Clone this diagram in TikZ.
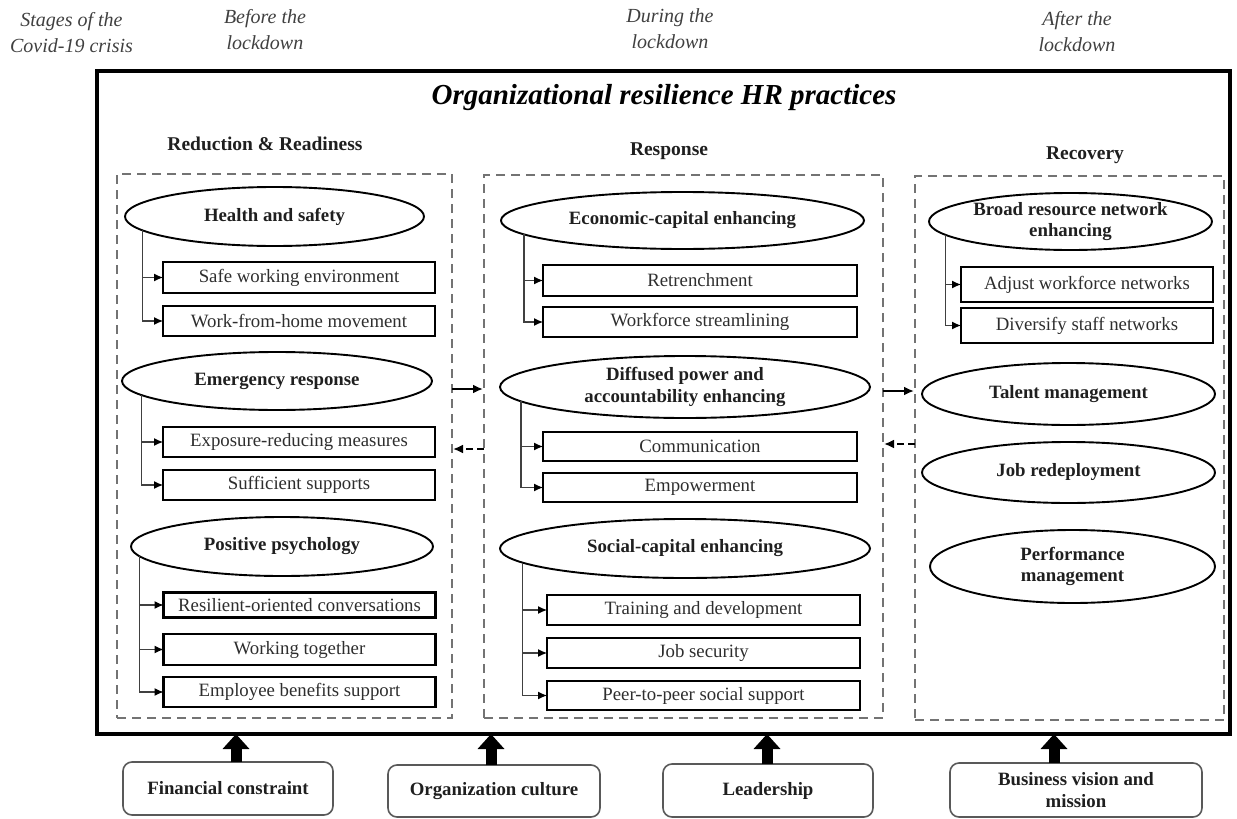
\documentclass[tikz,border=0pt]{standalone}
\usepackage{fontspec}
\setmainfont{Liberation Serif}
\usetikzlibrary{shapes.geometric,arrows.meta,calc}
\begin{document}
\begin{tikzpicture}[x=1pt,y=-1pt,
  every node/.style={font=\fontsize{18.8}{23}\selectfont, outer sep=0pt},
  hdr/.style={font=\fontsize{20}{26}\selectfont\itshape, text=black!75, align=center},
  colhd/.style={font=\fontsize{19.5}{24}\selectfont\bfseries, text=black!88},
  ell/.style={ellipse, draw, line width=1.9pt, inner sep=-8pt, font=\fontsize{18.8}{21.5}\selectfont\bfseries, align=center, text=black!88},
  item/.style={rectangle, draw, line width=2.4pt, inner sep=0pt, text=black!82},
  zone/.style={rectangle, draw=black!55, line width=1.6pt, dash pattern=on 9pt off 6pt},
  tree/.style={draw=black!75, line width=1.1pt, -{Latex[length=9pt,width=8pt,color=black]}},
  flow/.style={line width=2.2pt, -{Latex[length=10pt,width=9pt]}, shorten >=1pt},
  bflow/.style={flow, dash pattern=on 7pt off 4pt},
  base/.style={rectangle, rounded corners=9pt, draw=black!65, line width=1.6pt, font=\fontsize{18.8}{21.5}\selectfont\bfseries, align=center, text=black!88},
  push/.style={line width=11pt, -{Triangle[length=15pt,width=26pt]}}
]
\useasboundingbox (0,0) rectangle (1237,819);

% stage headers
\node[hdr] (st) at (71.5,33) {Stages of the\\Covid-19 crisis};
\node[hdr] (sb) at (265,29.5) {Before the\\lockdown};
\node[hdr] (sd) at (670,28.5) {During the\\lockdown};
\node[hdr] (sa) at (1077,31.5) {After the\\lockdown};

% outer frame
\node[rectangle, draw, line width=3.2pt, minimum width=1133pt, minimum height=663pt] (outer) at (663.5,402.5) {};
\node[font=\fontsize{29}{32}\selectfont\bfseries\itshape] (title) at (664,98) {Organizational resilience HR practices};

% column headers
\node[colhd] (rr) at (265,144) {Reduction \& Readiness};
\node[colhd] (rs) at (669,151) {Response};
\node[colhd] (rc) at (1085,155) {Recovery};

% zones
\node[zone, minimum width=335pt, minimum height=544pt] (zL) at (284.5,446) {};
\node[zone, minimum width=399pt, minimum height=543pt] (zM) at (683.5,446.5) {};
\node[zone, minimum width=309pt, minimum height=544pt] (zR) at (1069.5,448) {};

% left column
\node[ell, minimum width=299pt, minimum height=59pt] (hs) at (274.5,216.5) {Health and safety};
\node[item, minimum width=272pt, minimum height=31pt] (hs1) at (299,277.5) {Safe working environment};
\node[item, minimum width=272pt, minimum height=30pt] (hs2) at (299,321) {Work-from-home movement};
\node[ell, minimum width=310pt, minimum height=58pt] (er) at (277,381) {Emergency response};
\node[item, minimum width=272pt, minimum height=30pt] (er1) at (299,442) {Exposure-reducing measures};
\node[item, minimum width=272pt, minimum height=30pt] (er2) at (299,485) {Sufficient supports};
\node[ell, minimum width=302pt, minimum height=59pt] (pp) at (282,546.5) {Positive psychology};
\node[item, minimum width=272pt, minimum height=25pt] (pp1) at (299.5,605) {Resilient-oriented conversations};
\node[item, minimum width=272pt, minimum height=31pt] (pp2) at (299.5,649.5) {Working together};
\node[item, minimum width=272pt, minimum height=30pt] (pp3) at (299.5,692) {Employee benefits support};

\draw[tree] (hs.186) |- (hs1.west);
\draw[tree] (hs.186) |- (hs2.west);
\draw[tree] (er.186) |- (er1.west);
\draw[tree] (er.186) |- (er2.west);
\draw[tree] (pp.184) |- (pp1.west);
\draw[tree] (pp.184) |- (pp2.west);
\draw[tree] (pp.184) |- (pp3.west);

% middle column
\node[ell, minimum width=363pt, minimum height=57pt] (ec) at (682.5,220.5) {Economic-capital enhancing};
\node[item, minimum width=314pt, minimum height=31pt] (ec1) at (700,280.5) {Retrenchment};
\node[item, minimum width=314pt, minimum height=30pt] (ec2) at (700,322) {Workforce streamlining};
\node[ell, minimum width=370pt, minimum height=62pt] (dp) at (685,387) {Diffused power and\\accountability enhancing};
\node[item, minimum width=314pt, minimum height=29pt] (dp1) at (700,446.5) {Communication};
\node[item, minimum width=314pt, minimum height=29pt] (dp2) at (700,487.5) {Empowerment};
\node[ell, minimum width=370pt, minimum height=59pt] (sc) at (685,548.5) {Social-capital enhancing};
\node[item, minimum width=313pt, minimum height=30pt] (sc1) at (703.5,610) {Training and development};
\node[item, minimum width=313pt, minimum height=30pt] (sc2) at (703.5,653) {Job security};
\node[item, minimum width=313pt, minimum height=29pt] (sc3) at (703.5,695.5) {Peer-to-peer social support};

\draw[tree] (ec.185) |- (ec1.west);
\draw[tree] (ec.185) |- (ec2.west);
\draw[tree] (dp.185) |- (dp1.west);
\draw[tree] (dp.185) |- (dp2.west);
\draw[tree] (sc.185) |- (sc1.west);
\draw[tree] (sc.185) |- (sc2.west);
\draw[tree] (sc.185) |- (sc3.west);

% right column
\node[ell, minimum width=283pt, minimum height=57pt] (br) at (1070.5,221.5) {Broad resource network\\enhancing};
\node[item, minimum width=252pt, minimum height=35pt] (br1) at (1087,284.5) {Adjust workforce networks};
\node[item, minimum width=252pt, minimum height=35pt] (br2) at (1087,325.5) {Diversify staff networks};
\node[ell, minimum width=293pt, minimum height=62pt] (tm) at (1068.5,394) {Talent management};
\node[ell, minimum width=293pt, minimum height=61pt] (jr) at (1068.5,472.5) {Job redeployment};
\node[ell, minimum width=285pt, minimum height=73pt] (pm) at (1072.5,566.5) {Performance\\management};

\draw[tree] (br.186) |- (br1.west);
\draw[tree] (br.186) |- (br2.west);

% flows between zones
\coordinate (f1) at (0,389);
\coordinate (f2) at (0,449);
\coordinate (f3) at (0,391);
\coordinate (f4) at (0,444);
\draw[flow] (zL.east |- f1) -- (zM.west |- f1);
\draw[bflow] (zM.west |- f2) -- (zL.east |- f2);
\draw[flow] (zM.east |- f3) -- (zR.west |- f3);
\draw[bflow] (zR.west |- f4) -- (zM.east |- f4);

% bottom factors
\node[base, minimum width=210pt, minimum height=53pt] (fc) at (228,788.5) {Financial constraint};
\node[base, minimum width=212pt, minimum height=52pt] (oc) at (494,791) {Organization culture};
\node[base, minimum width=210pt, minimum height=53pt] (ld) at (768,790.5) {Leadership};
\node[base, minimum width=252pt, minimum height=54pt] (bv) at (1076,790) {Business vision and\\mission};

\coordinate (u1) at (236,0);
\coordinate (u2) at (491,0);
\coordinate (u3) at (767,0);
\coordinate (u4) at (1054,0);
\draw[push] (fc.north -| u1) -- (outer.south -| u1);
\draw[push] (oc.north -| u2) -- (outer.south -| u2);
\draw[push] (ld.north -| u3) -- (outer.south -| u3);
\draw[push] (bv.north -| u4) -- (outer.south -| u4);
\end{tikzpicture}
\end{document}
